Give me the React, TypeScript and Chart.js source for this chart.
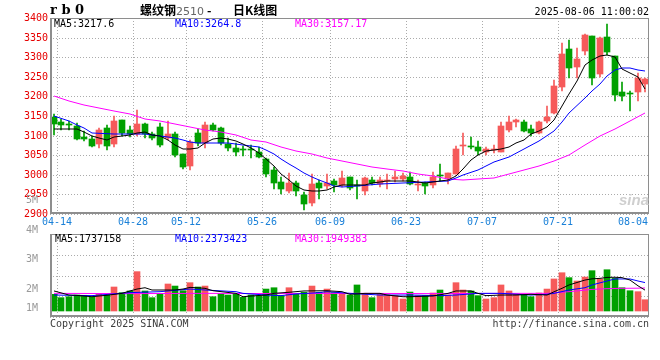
import React, { useEffect, useRef } from 'react';
import { Chart, registerables } from 'chart.js';

Chart.register(...registerables);

// ---------------- data ----------------
const DATES = [
  '04-14','04-15','04-16','04-17','04-18','04-21','04-22','04-23','04-24','04-25','04-28','04-29','04-30',
  '05-06','05-07','05-08','05-09','05-12','05-13','05-14','05-15','05-16','05-19','05-20','05-21','05-22','05-23',
  '05-26','05-27','05-28','05-29','05-30','06-03','06-04','06-05','06-06','06-09','06-10','06-11','06-12','06-13',
  '06-16','06-17','06-18','06-19','06-20','06-23','06-24','06-25','06-26','06-27','06-30',
  '07-01','07-02','07-03','07-04','07-07','07-08','07-09','07-10','07-11','07-14','07-15','07-16','07-17','07-18',
  '07-21','07-22','07-23','07-24','07-25','07-28','07-29','07-30','07-31','08-01','08-04','08-05','08-06',
];
const TICK_DATES = ['04-14','04-28','05-12','05-26','06-09','06-23','07-07','07-21','08-04'];

const OPEN = [3148,3135,3128,3125,3097,3091,3079,3119,3079,3140,3114,3105,3130,3103,3121,3094,3103,3053,3022,3107,
  3080,3127,3119,3079,3068,3066,3064,3059,3040,3012,2981,2959,2978,2948,2929,2978,2971,2984,2974,2995,
  2973,2959,2987,2976,2983,2989,2989,2995,2975,2978,2974,3000,2993,3001,3073,3072,3072,3059,3063,3059,
  3115,3134,3134,3116,3106,3136,3157,3225,3321,3276,3317,3354,3258,3352,3302,3210,3207,3210,3232];
const HIGH = [3154,3142,3138,3133,3113,3098,3120,3126,3149,3141,3124,3165,3132,3110,3132,3138,3108,3053,3088,3116,
  3134,3132,3121,3095,3080,3074,3076,3072,3042,3021,2995,3004,2983,2957,3001,2986,3001,2989,3010,2995,
  2987,2995,2995,2995,3001,3010,3004,3006,2987,2981,3006,3027,3004,3074,3106,3097,3086,3072,3075,3134,
  3150,3143,3140,3127,3137,3176,3241,3336,3344,3323,3358,3354,3352,3385,3302,3238,3215,3259,3248];
const LOW = [3102,3114,3114,3088,3086,3070,3069,3064,3071,3100,3097,3098,3093,3088,3071,3089,3045,3016,3012,3074,
  3069,3111,3076,3061,3049,3048,3044,3043,2995,2965,2950,2954,2947,2911,2921,2938,2964,2957,2969,2961,
  2938,2948,2974,2970,2964,2981,2984,2974,2959,2950,2967,2984,2976,3001,3051,3066,3051,3051,3055,3057,
  3110,3123,3108,3098,3104,3133,3155,3214,3246,3248,3306,3229,3250,3306,3187,3188,3164,3187,3212];
const CLOSE = [3130,3126,3126,3092,3092,3074,3114,3074,3138,3106,3104,3130,3103,3095,3076,3104,3050,3021,3084,3080,
  3127,3115,3082,3069,3057,3064,3062,3046,3003,2978,2964,2978,2959,2926,2977,2967,2980,2974,2991,2967,
  2972,2991,2978,2987,2984,2995,2997,2976,2976,2972,2995,2998,3004,3066,3075,3071,3061,3065,3067,3124,
  3135,3141,3113,3106,3135,3148,3227,3308,3273,3296,3357,3248,3350,3314,3204,3202,3206,3246,3244];

const MA5 = [3118,3117,3118,3117,3109,3100,3094,3090,3096,3099,
  3102,3107,3110,3101,3100,3090,3077,3066,3065,3069,
  3081,3092,3094,3091,3086,3079,3069,3056,3040,3023,
  3002,2986,2972,2960,2959,2959,2962,2968,2973,2974,
  2974,2975,2980,2982,2984,2984,2984,2984,2982,2979,
  2981,2983,2988,2998,3016,3037,3050,3060,3064,3066,
  3071,3080,3090,3104,3112,3122,3140,3175,3205,3240,
  3280,3293,3302,3306,3300,3270,3260,3250,3218];
const MA10_IDX = [0,2,3,4,5,8,11,12,14,15,16,17,18,19,20,23,25,27,28,29,30,31,32,33,34,35,36,37,38,40,43,46,49,52,53,54,56,58,60,62,64,66,67,68,70,71,72,73,74,75,76,77,78];
const MA10_VAL = [3150,3137,3128,3119,3107,3105,3105,3103,3100,3097,3093,3088,3084,3082,3082,3081,3075,3070,3062,3052,3040,3028,3018,3005,2995,2986,2979,2971,2968,2972,2977,2980,2981,2984,2992,3000,3012,3033,3046,3066,3086,3112,3135,3158,3195,3215,3232,3252,3268,3273,3273,3268,3265];
const MA30_IDX = [0,2,4,6,8,10,12,14,16,18,20,22,24,26,28,30,32,34,36,38,40,42,44,46,48,50,52,54,56,58,60,62,64,66,68,70,72,74,76,78];
const MA30_VAL = [3200,3187,3177,3170,3163,3154,3143,3136,3129,3121,3115,3109,3101,3089,3084,3072,3061,3052,3042,3034,3027,3021,3015,3009,3001,2996,2990,2988,2989,2992,3002,3012,3023,3034,3050,3075,3098,3118,3137,3157];

const VOLUME = [1390000,1110000,1190000,1330000,1310000,1170000,1390000,1330000,2000000,1530000,
  1670000,3280000,1670000,1110000,1390000,2250000,2080000,1690000,2360000,2000000,
  2080000,1190000,1420000,1330000,1390000,1140000,1330000,1250000,1830000,1940000,
  1280000,1940000,1390000,1560000,2080000,1560000,1830000,1530000,1470000,1330000,
  2170000,1470000,1110000,1390000,1330000,1280000,1000000,1580000,1280000,1280000,
  1500000,1750000,1330000,2360000,1750000,1670000,1280000,1000000,1110000,2170000,
  1670000,1390000,1330000,1190000,1500000,1830000,2670000,3190000,2780000,2500000,
  2830000,3360000,2670000,3440000,2720000,1940000,1690000,1610000,940000];
const VMA5_IDX = [0,2,3,5,6,7,9,10,11,12,13,16,17,18,20,21,24,25,26,28,29,31,33,36,38,39,41,43,44,46,47,50,52,53,55,56,57,59,61,63,65,66,67,68,70,71,72,73,74,75,76,77,78];
const VMA5_VAL = [1670000,1330000,1300000,1190000,1250000,1310000,1470000,1670000,1830000,1940000,1750000,1750000,1830000,1970000,1890000,1690000,1470000,1190000,1250000,1330000,1470000,1560000,1670000,1690000,1610000,1390000,1470000,1470000,1330000,1190000,1190000,1250000,1470000,1670000,1670000,1470000,1280000,1330000,1330000,1390000,1330000,1600000,1890000,2170000,2580000,2680000,2720000,2800000,2810000,2780000,2580000,2100000,1740000];
const VMA10_IDX = [0,5,10,14,18,20,24,25,28,30,32,35,36,39,43,47,51,53,56,59,63,65,66,68,70,71,73,74,76,77,78];
const VMA10_VAL = [1330000,1280000,1530000,1610000,1830000,1750000,1610000,1470000,1330000,1280000,1420000,1530000,1610000,1470000,1330000,1330000,1280000,1330000,1470000,1470000,1330000,1390000,1470000,1750000,1940000,2170000,2500000,2670000,2670000,2500000,2370000];
const VMA30_IDX = [0,10,20,30,40,50,60,65,67,69,71,73,75,77,78];
const VMA30_VAL = [1470000,1450000,1470000,1450000,1470000,1450000,1470000,1470000,1560000,1670000,1800000,1860000,1890000,1900000,1920000];

const PRICE_TICKS = [3400,3350,3300,3250,3200,3150,3100,3050,3000,2950,2900];
const VOL_LABELS = ['5M','4M','3M','2M','1M'];
const VOL_LABEL_AT = [9250000,6690000,4280000,1780000,250000];

// ---------------- style ----------------
const MONO = '"DejaVu Sans Mono", "Liberation Mono", monospace';
const UP = '#f65a5a';
const DOWN = '#00a000';
const GRID = '#ababab';
const BORDER = '#8e8e8e';
const DATE_BLUE = '#1a80d8';

const TICK_IDX = TICK_DATES.map((d) => DATES.indexOf(d));
const candleColor = DATES.map((_, i) => (CLOSE[i] >= OPEN[i] ? UP : DOWN));

const panelBox = {
  id: 'panelBox',
  afterDraw(chart: any) {
    const { ctx, chartArea: a } = chart;
    ctx.save();
    ctx.strokeStyle = BORDER;
    ctx.lineWidth = 1;
    ctx.strokeRect(a.left + 0.5, a.top + 0.5, a.right - a.left - 1, a.bottom - a.top - 1);
    ctx.lineWidth = 2;
    ctx.beginPath();
    ctx.moveTo(a.left + 1, a.top);
    ctx.lineTo(a.left + 1, a.bottom - 1);
    ctx.lineTo(a.right, a.bottom - 1);
    ctx.stroke();
    ctx.restore();
  },
};

function xScale(showLabels: boolean) {
  return {
    type: 'linear',
    min: -0.5,
    max: 78.5,
    offset: false,
    alignToPixels: true,
    afterBuildTicks: (s: any) => {
      s.ticks = TICK_IDX.map((i) => ({ value: i + 0.45 }));
    },
    ticks: {
      display: showLabels,
      autoSkip: false,
      maxRotation: 0,
      minRotation: 0,
      padding: 2,
      color: DATE_BLUE,
      font: { family: MONO, size: 10 },
      callback: (_v: any, idx: number) => TICK_DATES[idx],
    },
    grid: {
      drawTicks: false,
      offset: false,
      lineWidth: 1,
      color: (c: any) => (c.index === TICK_IDX.length - 1 ? 'rgba(0,0,0,0)' : GRID),
    },
    border: { display: false, dash: [1, 2] },
    afterFit: (s: any) => {
      s.height = showLabels ? 12 : 0;
    },
  };
}

const line = (label: string, pts: { x: number; y: number }[], color: string) => ({
  type: 'line',
  label,
  data: pts,
  borderColor: color,
  backgroundColor: color,
  borderWidth: 1,
  pointRadius: 0,
  tension: 0,
  order: 0,
});

export default function App() {
  const priceRef = useRef<HTMLCanvasElement>(null);
  const volRef = useRef<HTMLCanvasElement>(null);

  useEffect(() => {
    const priceChart = new Chart(priceRef.current as HTMLCanvasElement, {
      type: 'bar',
      data: {
        datasets: [
          line('MA5', MA5.map((v, i) => ({ x: i, y: v })), '#000000'),
          line('MA10', MA10_IDX.map((x, k) => ({ x, y: MA10_VAL[k] })), '#0000ff'),
          line('MA30', MA30_IDX.map((x, k) => ({ x, y: MA30_VAL[k] })), '#ff00ff'),
          {
            type: 'bar',
            label: 'body',
            data: DATES.map((_, i) => ({ x: i, y: [OPEN[i], CLOSE[i]] })),
            backgroundColor: candleColor,
            borderWidth: 0,
            barThickness: 6,
            minBarLength: 1,
            grouped: false,
            order: 1,
          },
          {
            type: 'bar',
            label: 'wick',
            data: DATES.map((_, i) => ({ x: i, y: [LOW[i], HIGH[i]] })),
            backgroundColor: candleColor,
            borderWidth: 0,
            barThickness: 1,
            grouped: false,
            order: 2,
          },
        ] as any,
      },
      options: {
        animation: false,
        responsive: false,
        maintainAspectRatio: false,
        layout: { padding: { top: 18, right: 11, bottom: 0, left: 0 } },
        plugins: { legend: { display: false }, tooltip: { enabled: false }, title: { display: false } },
        scales: {
          x: xScale(true) as any,
          y: {
            type: 'linear',
            position: 'left',
            min: 2900,
            max: 3400,
            beginAtZero: false,
            alignToPixels: true,
            afterBuildTicks: (s: any) => {
              s.ticks = PRICE_TICKS.map((v) => ({ value: v }));
            },
            ticks: {
              autoSkip: false,
              padding: 2,
              color: '#e60000',
              font: { family: MONO, size: 10 },
              callback: (v: any) => String(v),
            },
            grid: { drawTicks: false, color: GRID, lineWidth: 1 },
            border: { display: false, dash: [1, 2] },
            afterFit: (s: any) => {
              s.width = 50;
            },
          } as any,
        },
      },
      plugins: [panelBox],
    });

    const volMin = -500000;
    const volMax = 6416667;
    const volChart = new Chart(volRef.current as HTMLCanvasElement, {
      type: 'bar',
      data: {
        datasets: [
          line('VMA5', VMA5_IDX.map((x, k) => ({ x, y: VMA5_VAL[k] })), '#000000'),
          line('VMA10', VMA10_IDX.map((x, k) => ({ x, y: VMA10_VAL[k] })), '#0000ff'),
          line('VMA30', VMA30_IDX.map((x, k) => ({ x, y: VMA30_VAL[k] })), '#ff00ff'),
          {
            type: 'bar',
            label: 'volume',
            data: VOLUME.map((v, i) => ({ x: i, y: v })),
            backgroundColor: candleColor,
            borderWidth: 0,
            barThickness: 6,
            grouped: false,
            order: 1,
          },
        ] as any,
      },
      options: {
        animation: false,
        responsive: false,
        maintainAspectRatio: false,
        layout: { padding: { top: 44, right: 11, bottom: 13, left: 0 } },
        plugins: { legend: { display: false }, tooltip: { enabled: false }, title: { display: false } },
        scales: {
          x: xScale(false) as any,
          y: {
            type: 'linear',
            position: 'left',
            min: volMin,
            max: volMax,
            beginAtZero: false,
            afterBuildTicks: (s: any) => {
              s.ticks = VOL_LABEL_AT.map((v) => ({ value: v }));
            },
            ticks: {
              autoSkip: false,
              padding: 4,
              color: '#9a9a9a',
              font: { family: MONO, size: 10 },
              callback: (_v: any, idx: number) => VOL_LABELS[idx],
            },
            grid: { display: false },
            border: { display: false },
            afterFit: (s: any) => {
              s.width = 50;
            },
          } as any,
          yGrid: {
            type: 'linear',
            position: 'right',
            min: volMin,
            max: volMax,
            alignToPixels: true,
            afterBuildTicks: (s: any) => {
              const step = (volMax - volMin) / 4;
              s.ticks = [0, 1, 2, 3, 4].map((k) => ({ value: volMin + k * step }));
            },
            ticks: { display: false },
            grid: { drawTicks: false, color: GRID, lineWidth: 1 },
            border: { display: false, dash: [1, 2] },
            afterFit: (s: any) => {
              s.width = 0;
            },
          } as any,
        },
      },
      plugins: [panelBox],
    });

    return () => {
      priceChart.destroy();
      volChart.destroy();
    };
  }, []);

  const mono = (extra: any) => ({
    position: 'absolute' as const,
    fontFamily: MONO,
    fontSize: 10,
    lineHeight: '12px',
    whiteSpace: 'pre' as const,
    ...extra,
  });

  const cjk = (extra: any) => ({
    position: 'absolute' as const,
    fontFamily: '"Noto Sans CJK SC", sans-serif',
    fontSize: 12,
    lineHeight: '14px',
    fontWeight: 'bold',
    whiteSpace: 'pre' as const,
    color: '#000',
    ...extra,
  });

  return (
    <div
      style={{
        position: 'fixed',
        left: 0,
        top: 0,
        width: 660,
        height: 360,
        background: '#ffffff',
        overflow: 'hidden',
      }}
    >
      <canvas
        ref={priceRef}
        width={660}
        height={226}
        style={{ position: 'absolute', left: 0, top: 0, width: 660, height: 226 }}
      />
      <canvas
        ref={volRef}
        width={660}
        height={140}
        style={{ position: 'absolute', left: 0, top: 190, width: 660, height: 140 }}
      />

      <div
        style={{
          position: 'absolute',
          left: 50,
          top: 3,
          fontFamily: '"DejaVu Serif", serif',
          fontWeight: 'bold',
          fontSize: 13,
          lineHeight: '14px',
          whiteSpace: 'pre',
          color: '#000',
        }}
      >
        r b 0
      </div>
      <div style={cjk({ left: 140, top: 3 })}>
        螺纹钢
        <span style={{ color: '#666', fontWeight: 'normal', fontFamily: '"DejaVu Sans", sans-serif', fontSize: 11 }}>
          2510
        </span>
      </div>
      <div style={cjk({ left: 207, top: 3 })}>-</div>
      <div style={cjk({ left: 233, top: 3 })}>日K线图</div>
      <div style={mono({ right: 11, top: 6, color: '#000' })}>2025-08-06 11:00:02</div>

      <div style={mono({ left: 54, top: 18, color: '#000' })}>MA5:3217.6</div>
      <div style={mono({ left: 175, top: 18, color: '#0000ff' })}>MA10:3264.8</div>
      <div style={mono({ left: 295, top: 18, color: '#ff00ff' })}>MA30:3157.17</div>

      <div
        style={{
          position: 'absolute',
          left: 619,
          top: 192,
          fontFamily: '"Liberation Sans", sans-serif',
          fontStyle: 'italic',
          fontWeight: 'bold',
          fontSize: 15,
          lineHeight: '16px',
          color: '#cfcfcf',
          whiteSpace: 'pre',
        }}
      >
        sina
      </div>

      <div style={mono({ left: 55, top: 233, color: '#000' })}>MA5:1737158</div>
      <div style={mono({ left: 175, top: 233, color: '#0000ff' })}>MA10:2373423</div>
      <div style={mono({ left: 295, top: 233, color: '#ff00ff' })}>MA30:1949383</div>

      <div style={mono({ left: 50, top: 318, color: '#3c3c3c' })}>Copyright 2025 SINA.COM</div>
      <div style={mono({ right: 11, top: 318, color: '#3c3c3c' })}>http://finance.sina.com.cn</div>
    </div>
  );
}
